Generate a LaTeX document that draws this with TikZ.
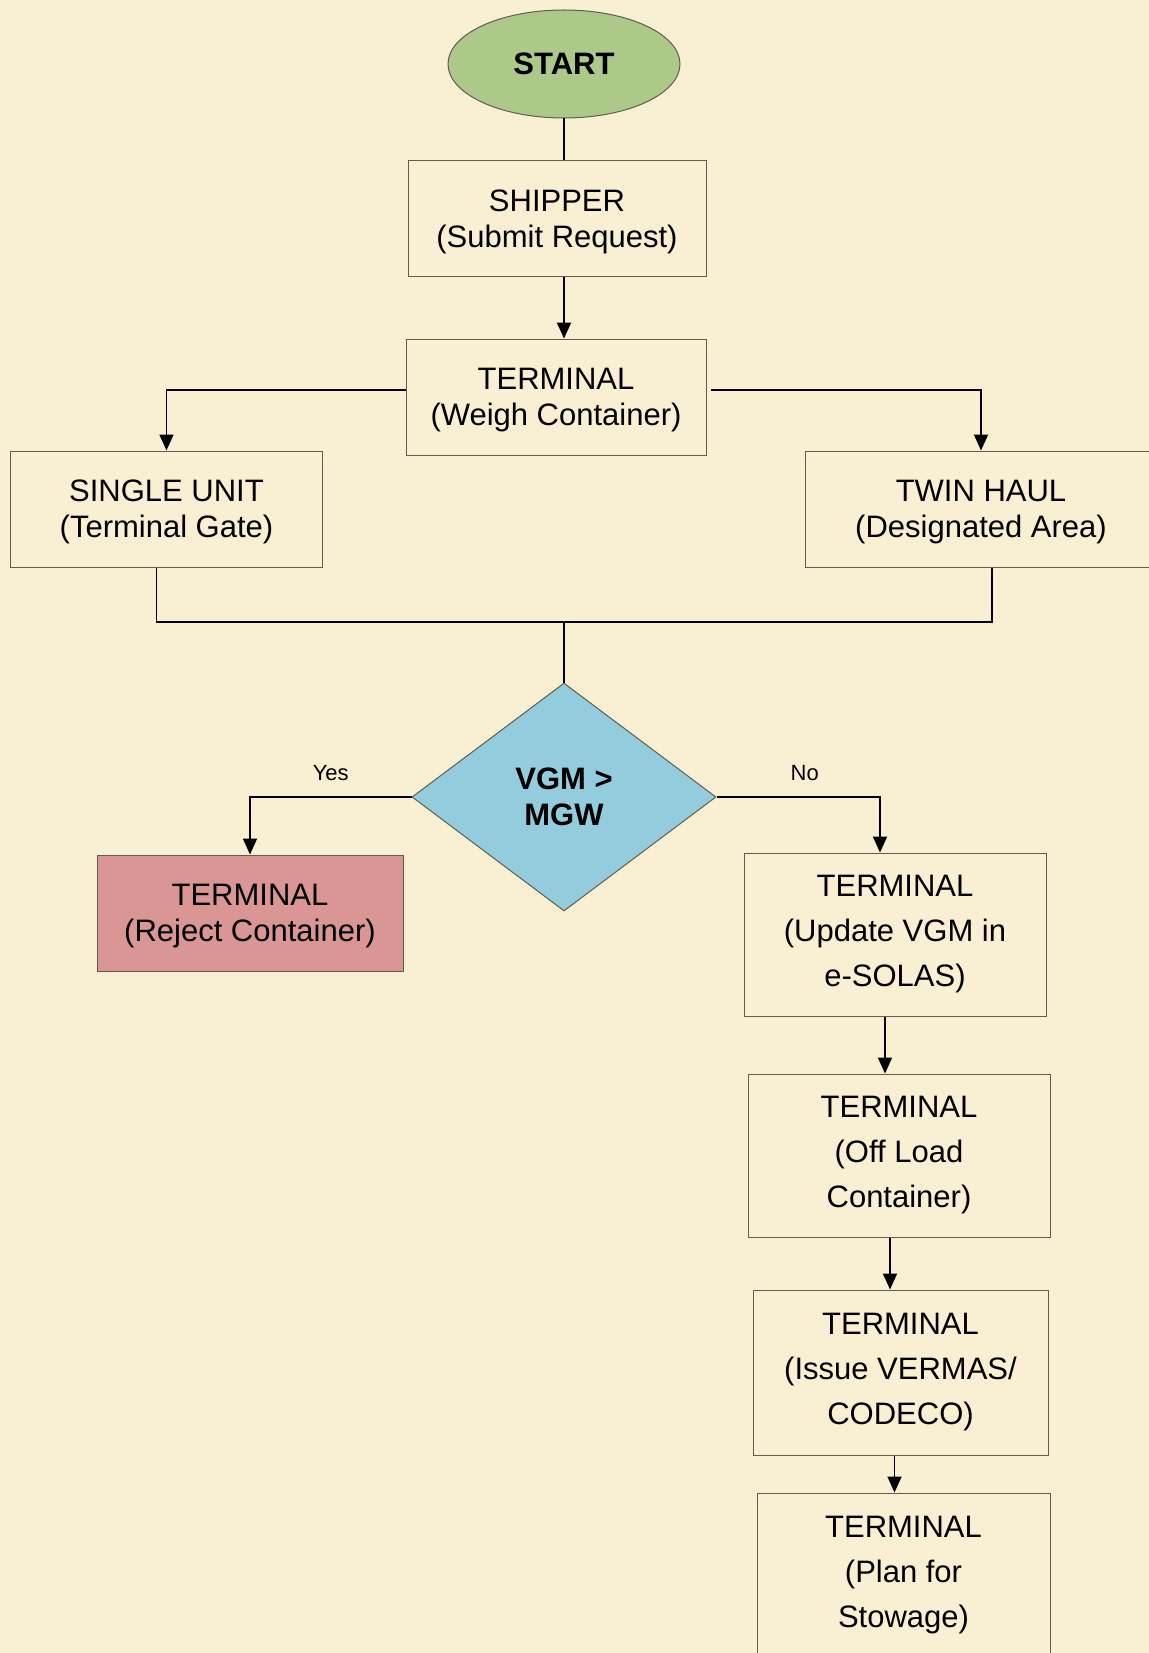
\documentclass[tikz,border=0pt]{standalone}
\usepackage{fontspec}
\setmainfont{Liberation Sans}
\usetikzlibrary{shapes.geometric,arrows.meta}
\definecolor{paper}{RGB}{249,239,210}
\definecolor{boxline}{RGB}{95,92,80}
\definecolor{startgreen}{RGB}{172,201,138}
\definecolor{checkblue}{RGB}{147,205,221}
\definecolor{rejectred}{RGB}{217,150,148}
\begin{document}
\begin{tikzpicture}[x=0.5pt,y=0.5pt,yscale=-1,
	box/.style={draw=boxline,line width=0.5pt,rectangle,inner sep=0pt,align=center,font=\fontsize{15.5}{18}\selectfont},
	shortbox/.style={box,text depth=0pt},
	tallbox/.style={box,font=\fontsize{15.5}{22.5}\selectfont},
	link/.style={draw=black,line width=0.9pt},
	arrow/.style={link,-{Triangle[length=8pt,width=7pt]}},
	answer/.style={font=\fontsize{11}{13}\selectfont,above=4.5pt}]
	\useasboundingbox (0,0) rectangle (1149,1653);
	\fill[paper] (0,0) rectangle (1149,1653);

	\node [ellipse,draw=boxline,line width=0.5pt,fill=startgreen,minimum width=116pt,minimum height=54pt,inner sep=0pt,text depth=-1.5pt,font=\fontsize{15.5}{18}\selectfont\bfseries] (start) at (564,64) {START};
	\node [shortbox,minimum width=149pt,minimum height=57.5pt] (shipper) at (557,218.5) {SHIPPER\\(Submit Request)};
	\node [shortbox,minimum width=150pt,minimum height=58pt] (weigh) at (556,397) {TERMINAL\\(Weigh Container)};
	\node [shortbox,minimum width=156pt,minimum height=58pt] (single) at (166.5,509) {SINGLE UNIT\\(Terminal Gate)};
	\node [shortbox,minimum width=176pt,minimum height=58pt] (twin) at (981,509) {TWIN HAUL\\(Designated Area)};
	\node [diamond,draw=boxline,line width=0.5pt,fill=checkblue,minimum width=152pt,minimum height=114pt,inner sep=0pt,align=center,font=\fontsize{15.5}{18}\selectfont\bfseries] (vgm) at (564,797) {VGM >\\MGW};
	\node [shortbox,fill=rejectred,minimum width=153pt,minimum height=58pt] (reject) at (250,913) {TERMINAL\\(Reject Container)};
	\node [tallbox,minimum width=151pt,minimum height=81.5pt] (update) at (895,934.5) {TERMINAL\\(Update VGM in\\e-SOLAS)};
	\node [tallbox,minimum width=151pt,minimum height=81.5pt] (offload) at (899,1155.5) {TERMINAL\\(Off Load\\Container)};
	\node [tallbox,minimum width=147.5pt,minimum height=82.5pt] (issue) at (900.5,1372.5) {TERMINAL\\(Issue VERMAS/\\CODECO)};
	\node [tallbox,minimum width=146.5pt,minimum height=82pt] (plan) at (903.5,1575) {TERMINAL\\(Plan for\\Stowage)};
	\coordinate (merge) at (564,622);

	\draw [link] (start.south) -- (start.south |- shipper.north);
	\draw [arrow] (start |- shipper.south) -- (start |- weigh.north);
	\draw [arrow] ([yshift=-3.5pt]weigh.west) -| (single.north);
	\draw [arrow] ([xshift=2pt,yshift=-3.5pt]weigh.east) -| (twin.north);
	\draw [link] ([xshift=-5pt]single.south) |- (merge) -| ([xshift=5.5pt]twin.south);
	\draw [link] (merge) -- (vgm.north);
	\draw [arrow] (vgm.west) -| node [answer,pos=0.25] {Yes} (reject.north);
	\draw [arrow] (vgm.east) -| node [answer,pos=0.27] {No} ([xshift=-7.5pt]update.north);
	\draw [arrow] ([xshift=-5pt]update.south) -- ([xshift=-5pt]update.south |- offload.north);
	\draw [arrow] ([xshift=-4.5pt]offload.south) -- ([xshift=-4.5pt]offload.south |- issue.north);
	\draw [arrow] ([xshift=-3pt]issue.south) -- ([xshift=-3pt]issue.south |- plan.north);
\end{tikzpicture}
\end{document}
